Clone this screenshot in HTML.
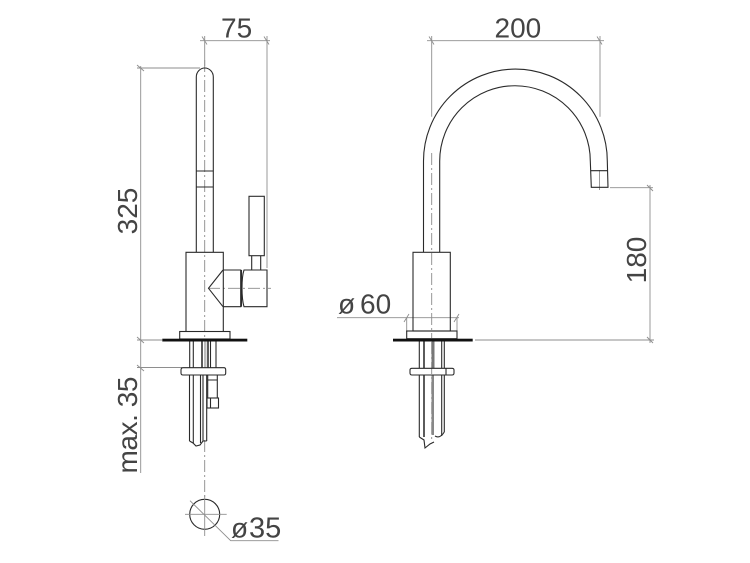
<!DOCTYPE html>
<html>
<head>
<meta charset="utf-8">
<style>
html,body{margin:0;padding:0;background:#fff}
svg{display:block}
text{font-family:"Liberation Sans",sans-serif;font-size:28px;fill:#444}
.o{fill:none;stroke:#2a2a2a;stroke-width:1.1}
.d{fill:none;stroke:#8e8e8e;stroke-width:.9}
.c{fill:none;stroke:#8a8a8a;stroke-width:.9;stroke-dasharray:12 3 2 3}
.k{fill:none;stroke:#333;stroke-width:1.6}
</style>
</head>
<body>
<svg xmlns="http://www.w3.org/2000/svg" width="750" height="563" viewBox="0 0 750 563">
<rect width="750" height="563" fill="#fff"/>

<!-- LEFT VIEW: centre lines -->
<path class="c" d="M204.7 60V340"/>
<path class="c" d="M204.7 440V500"/>
<path class="c" d="M208 288.3H271"/>

<!-- left view dims -->
<path class="d" d="M204.7 36V66M200 40.7H270M267 36V268"/>
<path class="d" d="M202 36.5l5 8M264 36.5l5 8"/>
<path class="d" d="M137 68H200M140.7 66V473"/>
<path class="d" d="M137 65l7 6M137 337l7 6M137 365l7 6"/>
<path class="d" d="M137 340H162M137 367.5H182"/>

<!-- left view faucet -->
<path class="o" d="M196.3 252V77a8.5 9 0 0 1 17 0V252"/>
<path class="o" d="M196.3 171H213.3M196.3 187H213.3"/>
<path class="o" d="M186 331.5V252.3H223.3V331.5"/>
<path class="o" d="M223.3 270H240.7V306.7H223.3"/>
<path class="o" d="M223 270L208.5 288.3L223 306.7"/>
<path class="o" stroke-width="1.6" d="M241.5 270V306.7"/>
<path class="o" d="M244 270H267V306.7H244Q242 300 242 288Q242 276 244 270Z"/>
<rect class="o" x="249" y="196.3" width="15.3" height="59.4"/>
<path class="o" d="M251.7 255.7V270M260.7 255.7V270"/>
<rect class="o" x="179.7" y="331.5" width="50.3" height="7.5"/>
<rect x="162.3" y="338.7" width="85" height="2.8" fill="#111"/>

<!-- left view lower pipes -->
<path class="o" stroke="#555" d="M189.7 341.5V367.7M193.3 341.5V367.7M210.5 341.5V367.7M216 341.5V367.7"/>
<path class="k" d="M202 341.5V367.7M208 341.5V367.7"/>
<rect x="204" y="341.5" width="2.5" height="26" fill="#bbb"/>
<path class="o" d="M183 367.7H224Q225.7 367.7 225.7 370V373Q225.7 375 224 375H183Q181 375 181 373V370Q181 367.7 183 367.7Z"/>
<path class="o" d="M189.5 375V441M193.3 375V443M200.5 375V443M203 375V441M206.7 375V441"/>
<path class="o" d="M189.5 441L193 443L196 446L200 445L203 441L206.7 441"/>
<path class="o" d="M207.7 375V398M217.3 375V398"/>
<rect class="o" x="207" y="398" width="11.5" height="10"/>
<path class="o" d="M210.5 398V408M207.7 380H217.3"/>

<!-- circle -->
<circle class="o" cx="204.7" cy="514.3" r="15"/>
<path class="d" d="M185 514.3H226.7M204.7 495V536"/>
<path class="d" d="M190 500.7L230.7 540.7H278.5"/>

<!-- RIGHT VIEW: centre lines -->
<path class="c" d="M431.7 153V338"/>
<path class="c" d="M431.7 342V440"/>
<path class="d" d="M599.5 170V190"/>

<!-- right view dims -->
<path class="d" d="M431.7 36V116.7M427 40.7H604M600 36V116.7"/>
<path class="d" d="M429 36.5l5 8M597 36.5l5 8"/>
<path class="d" d="M337 317.7H459M406.7 317.7V332M457 317.7V332"/>
<path class="d" d="M404 322l5 -8M454 322l5 -8"/>
<path class="d" d="M610 187.7H653M650 185V343M475 340H654"/>
<path class="d" d="M647 185l6 6M647 337l6 6"/>

<!-- right view faucet -->
<path class="o" d="M423.5 252.3V161A91.8 91.8 0 0 1 607.3 161L608 187.3H591.3L590.3 161A75.3 75.3 0 0 0 439.7 161V252.3"/>
<path class="o" d="M590.7 170.7H607.6"/>
<rect class="o" x="413" y="252.3" width="37.3" height="78.7"/>
<rect class="o" x="406.7" y="331" width="50.3" height="7.7"/>
<rect x="393" y="338.7" width="79.7" height="2.8" fill="#111"/>

<!-- right view lower pipes -->
<path class="o" d="M419.3 341.5V368.3M441.7 341.5V368.3M444.3 341.5V368.3"/>
<path class="k" d="M424 341.5V368.3M424 375V437"/>
<rect x="431.5" y="341.5" width="3" height="27" fill="#777"/>
<rect x="431.5" y="375" width="2.5" height="60" fill="#888"/>
<path class="o" d="M412 368.3H452Q454 368.3 454 370V373Q454 375 452 375H412Q410 375 410 373V370Q410 368.3 412 368.3Z"/>
<path class="o" d="M446 368.3V375"/>
<path class="o" d="M419.3 375V437M441.7 375V436M444.3 375V432"/>
<path class="o" d="M419.3 437L424 440L425 448L430 444L434 442"/>
<path class="o" d="M435 436Q440 439 444.3 432"/>

<!-- labels -->
<text x="221" y="37.5">75</text>
<text x="494.5" y="37.5">200</text>
<text transform="translate(137 211) rotate(-90)" text-anchor="middle">325</text>
<text transform="translate(137 473.5) rotate(-90)" textLength="97">max. 35</text>
<text transform="translate(646 260) rotate(-90)" text-anchor="middle">180</text>
<text x="338" y="313.5">ø</text>
<text x="360" y="313.5">60</text>
<text x="231" y="537.5">ø</text>
<text x="249" y="537.5" style="font-size:29px">35</text>
</svg>
</body>
</html>
